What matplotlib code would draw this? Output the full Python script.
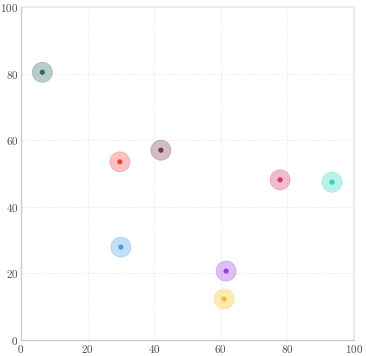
import matplotlib
matplotlib.use('Agg')
import matplotlib.pyplot as plt

x_vals = [6.4, 29.7, 42.0, 77.8, 93.4, 30.0, 61.6, 61.0]
y_vals = [80.4, 53.5, 57.0, 48.1, 47.4, 27.9, 20.7, 12.3]
colors = ['#2d6a5a', '#ef4444', '#7f3550', '#d6336c', '#2dd4bf',
          '#4a9be8', '#9b3ee8', '#fbbf24']
ticks = [0, 20, 40, 60, 80, 100]

plt.rcParams['font.family'] = 'serif'
plt.rcParams['font.serif'] = ['cmr10']
plt.rcParams['axes.formatter.use_mathtext'] = True

fig = plt.figure(figsize=(3.66, 3.56), dpi=100)
ax = fig.add_axes([21 / 366, 16 / 356, 333 / 366, 333 / 356])

# alone trasparente + punto centrale
ax.scatter(x_vals, y_vals, s=210, c=colors, alpha=0.33, linewidths=0.5,
           edgecolors=colors, zorder=3)
ax.scatter(x_vals, y_vals, s=14, c=colors, linewidths=0, zorder=4)

ax.set_xlim(0, 100)
ax.set_ylim(0, 100)
ax.set_xticks(ticks)
ax.set_yticks(ticks)
ax.tick_params(length=0, labelsize=8, colors='#4a4a4a', pad=2)
ax.grid(True, color='#e6e6e6', linestyle=(0, (2, 2)), linewidth=0.6)
ax.set_axisbelow(True)

for side in ['top', 'right']:
    ax.spines[side].set_color('#e8e8e8')
    ax.spines[side].set_linewidth(1.2)
for side in ['left', 'bottom']:
    ax.spines[side].set_color('#cccccc')
    ax.spines[side].set_linewidth(1.0)

fig.savefig('out.png', dpi=100)
plt.close(fig)
